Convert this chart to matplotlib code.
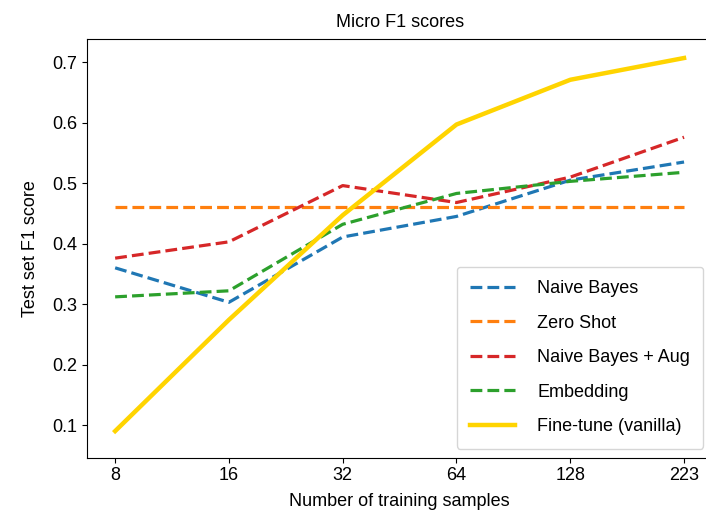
import matplotlib
matplotlib.use("Agg")
import matplotlib.pyplot as plt

# training set sizes (categorical x positions)
sizes = ["8", "16", "32", "64", "128", "223"]

naive_bayes = [0.360, 0.303, 0.411, 0.445, 0.505, 0.535]
zero_shot = [0.461, 0.461, 0.461, 0.461, 0.461, 0.461]
naive_bayes_aug = [0.376, 0.403, 0.496, 0.468, 0.510, 0.576]
embedding = [0.312, 0.322, 0.432, 0.483, 0.503, 0.518]
fine_tune = [0.090, 0.274, 0.447, 0.597, 0.671, 0.707]

plt.rcParams['font.family'] = ['Liberation Sans', 'DejaVu Sans']
plt.rcParams['font.size'] = 13

fig = plt.figure(figsize=(7.06, 5.27), dpi=100)
ax = fig.add_axes([0.1228, 0.1315, 0.8864, 0.794])

x = range(len(sizes))
ax.plot(x, naive_bayes, color="tab:blue", linestyle="--", linewidth=2.3, label="Naive Bayes")
ax.plot(x, zero_shot, color="tab:orange", linestyle="--", linewidth=2.3, label="Zero Shot")
ax.plot(x, naive_bayes_aug, color="tab:red", linestyle="--", linewidth=2.3, label="Naive Bayes + Aug")
ax.plot(x, embedding, color="tab:green", linestyle="--", linewidth=2.3, label="Embedding")
ax.plot(x, fine_tune, color="#FFD400", linestyle="-", linewidth=3.2, label="Fine-tune (vanilla)")

ax.set_xticks(list(x))
ax.set_xticklabels(sizes)
ax.set_xlim(-0.25, 5.25)
ax.set_ylim(0.046, 0.738)
ax.set_yticks([0.1, 0.2, 0.3, 0.4, 0.5, 0.6, 0.7])
ax.set_title("Micro F1 scores", fontsize=13, pad=9)
ax.set_xlabel("Number of training samples", labelpad=6)
ax.set_ylabel("Test set F1 score", labelpad=9)
ax.legend(loc="lower right", fontsize=13, labelspacing=0.97, handlelength=2.5,
          handletextpad=1.2, borderpad=0.75)

fig.savefig("out.png", dpi=100)
